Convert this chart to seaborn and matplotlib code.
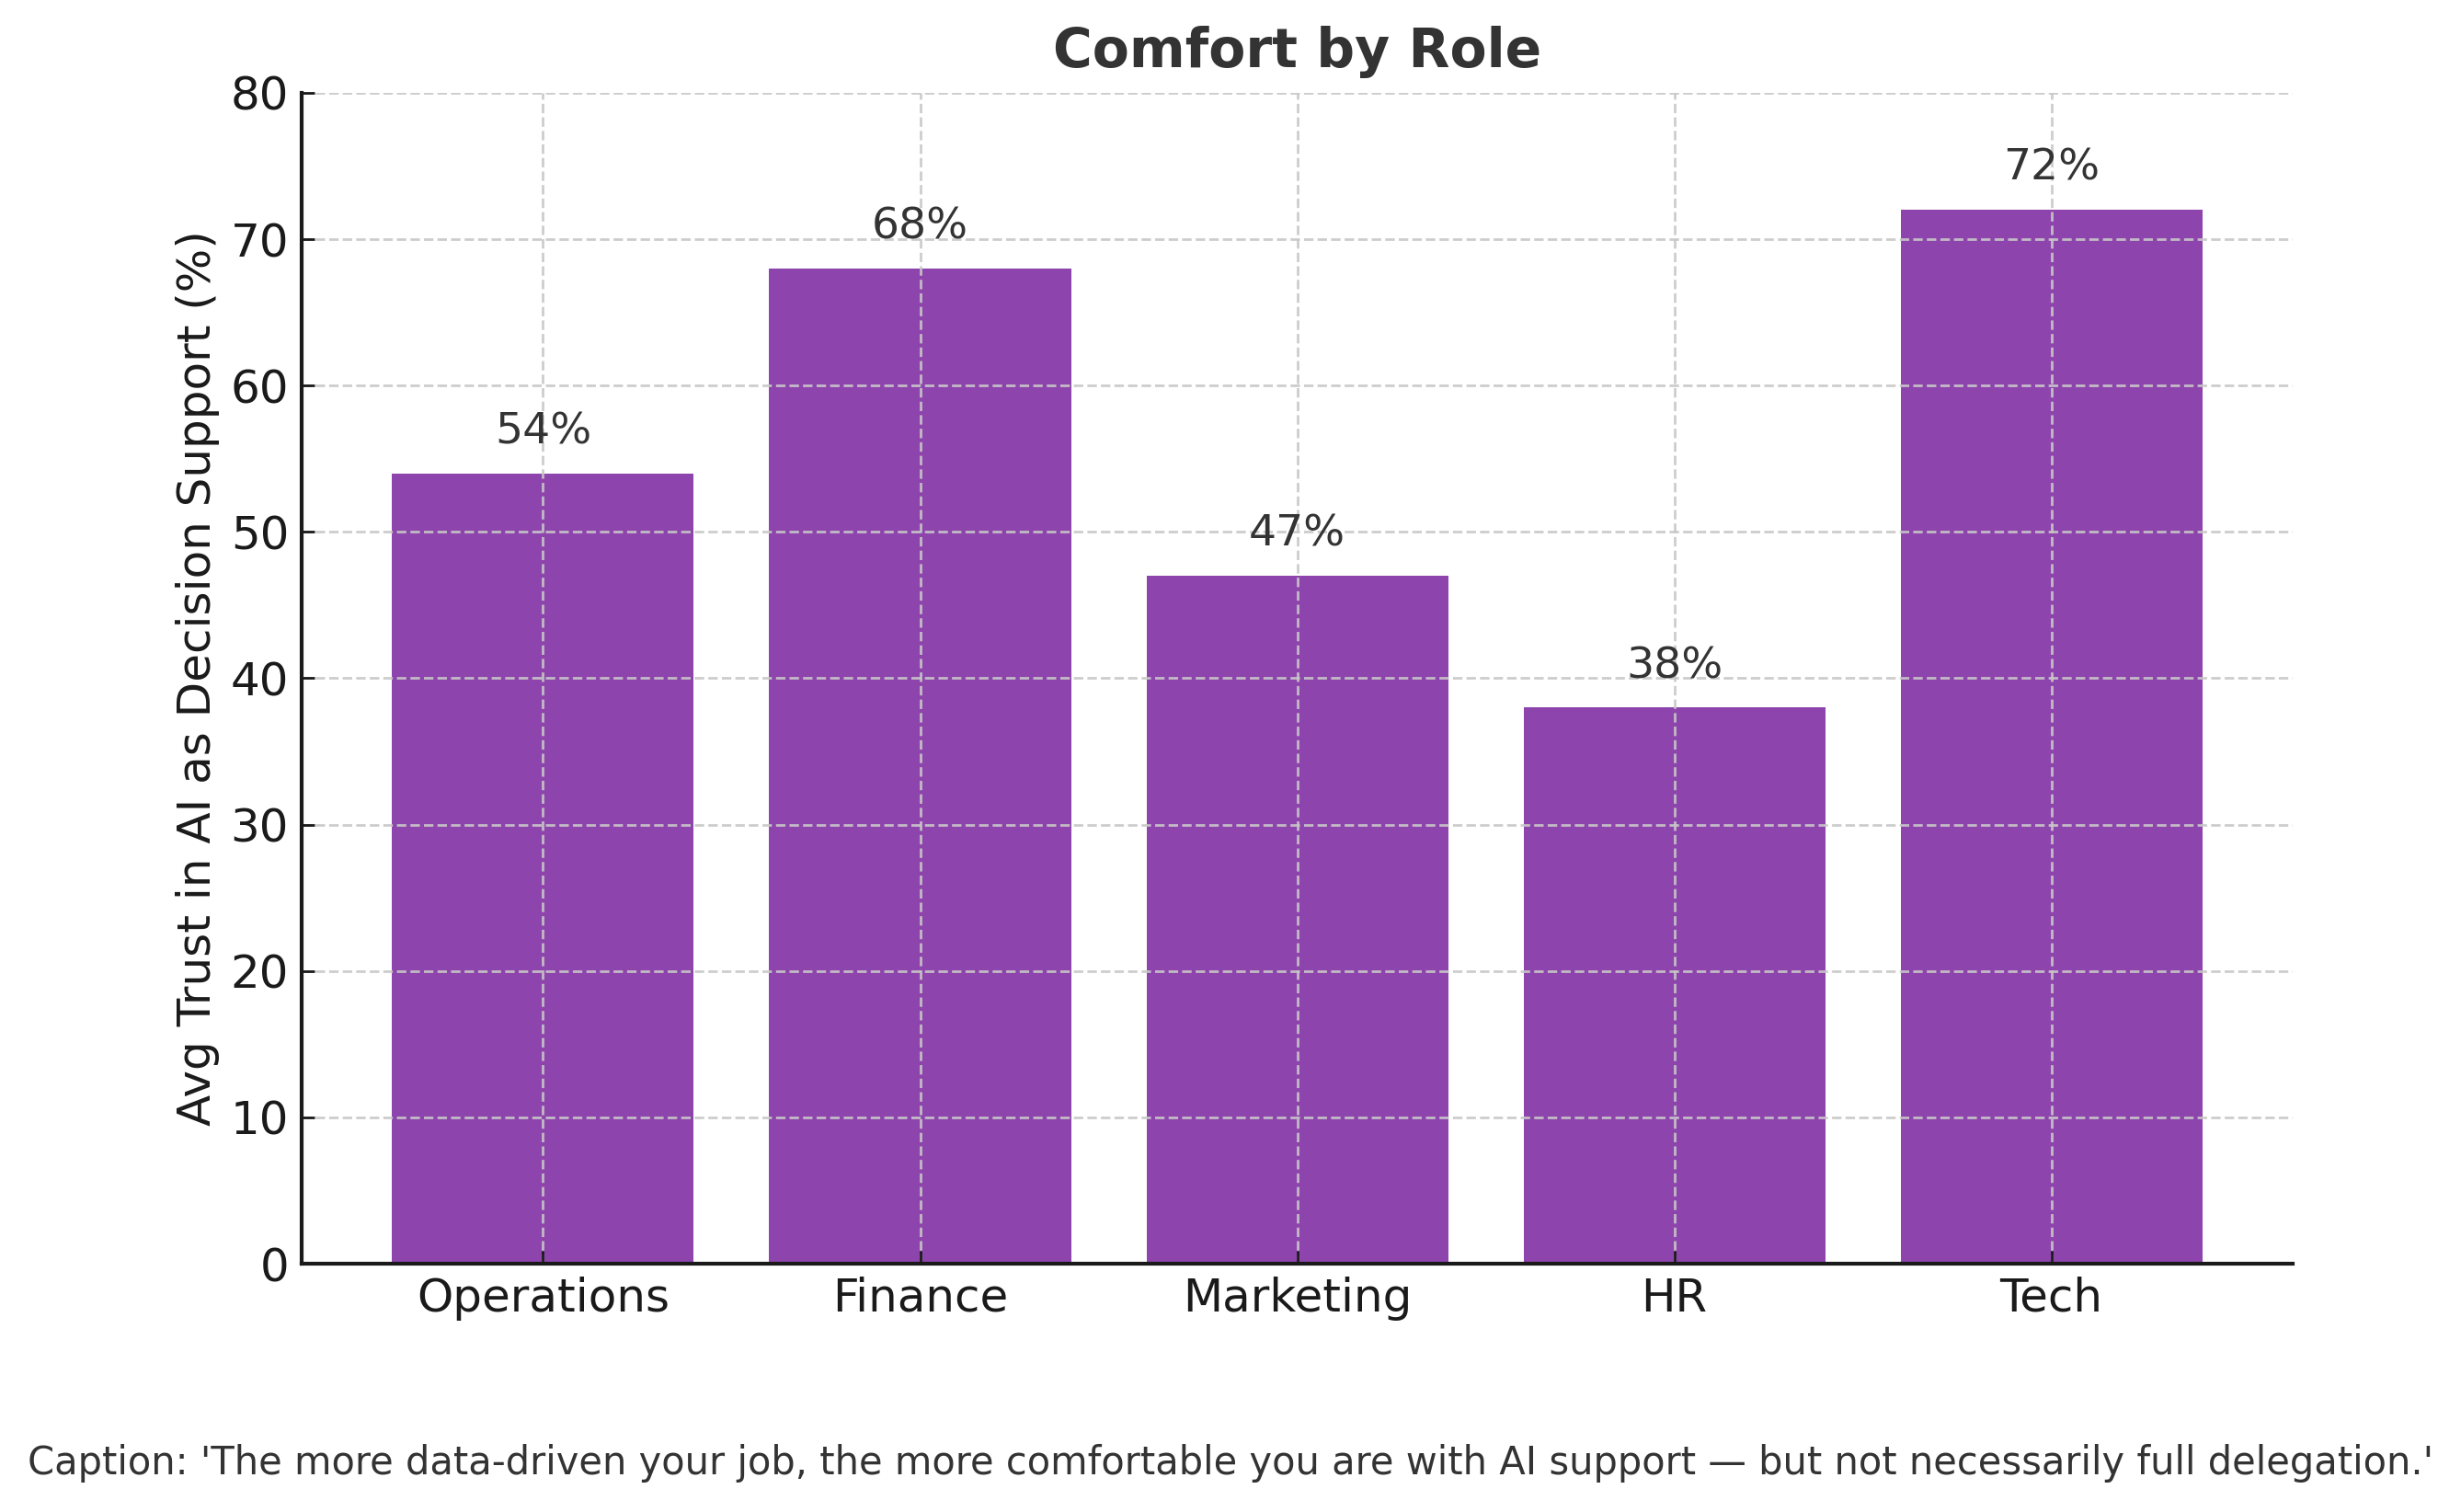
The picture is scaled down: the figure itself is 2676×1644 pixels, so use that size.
import matplotlib
matplotlib.use("Agg")
import matplotlib.pyplot as plt
import seaborn as sns
import pandas as pd

roles = ["Operations", "Finance", "Marketing", "HR", "Tech"]
trust = [54, 68, 47, 38, 72]
title = "Comfort by Role"
ylabel = "Avg Trust in AI as Decision Support (%)"
caption = ("Caption: 'The more data-driven your job, the more comfortable you are "
           "with AI support \u2014 but not necessarily full delegation.'")

sns.set_theme(style="ticks")
plt.rcParams['font.family'] = ['DejaVu Sans']

df = pd.DataFrame({"role": roles, "trust": trust})

fig = plt.figure(figsize=(13.38, 8.22), dpi=200)
ax = fig.add_axes([0.1226, 0.1642, 0.809, 0.7744])

sns.barplot(data=df, x="role", y="trust", color="#8E44AD", saturation=1,
            width=0.8, linewidth=0, ax=ax)

ax.set_ylim(0, 80)
ax.set_xlim(-0.64, 4.64)
ax.set_axisbelow(False)
ax.grid(True, linestyle="--", color="#c8c8c8", linewidth=1.0, alpha=0.9)
for s in ["top", "right"]:
    ax.spines[s].set_visible(False)
for s in ["left", "bottom"]:
    ax.spines[s].set_color("#1a1a1a")
    ax.spines[s].set_linewidth(1.5)
    ax.spines[s].set_zorder(5)

ax.set_title(title, fontsize=21, fontweight="bold", color="#333333", pad=10)
ax.set_ylabel(ylabel, fontsize=18, color="#1a1a1a")
ax.set_xlabel("")
ax.tick_params(axis="both", direction="in", labelsize=18, colors="#1a1a1a",
               length=5, width=1.0, pad=5)

for i, v in enumerate(trust):
    ax.text(i, v + 1.4, f"{v}%", ha="center", va="bottom", fontsize=17, color="#333333")

fig.text(0.5, 0.032, caption, ha="center", va="center", fontsize=15, color="#333333")

fig.savefig("out.png", dpi=200)
